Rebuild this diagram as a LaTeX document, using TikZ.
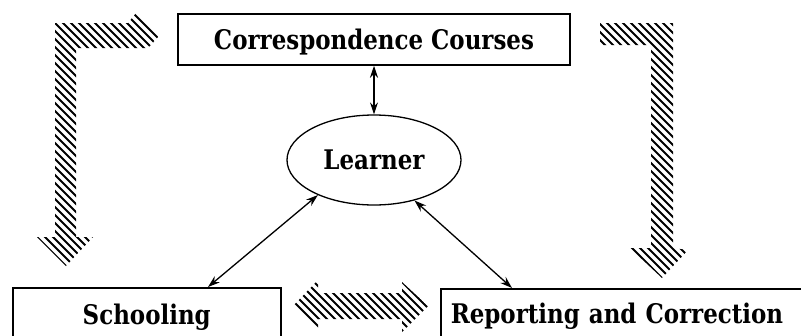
\documentclass[tikz,border=0pt]{standalone}
\usepackage{fontspec}
\setmainfont{DejaVu Serif}[FakeStretch=0.85]
\usetikzlibrary{arrows.meta,shapes.geometric}

\begin{document}
\begin{tikzpicture}[x=1pt,y=-1pt,
  label font/.style={font=\fontsize{27}{30}\selectfont\bfseries},
  box/.style={draw, line width=1.5pt, inner sep=0pt, label font,
    text height=19pt, text depth=0pt},
  learner/.style={draw, ellipse, line width=1.3pt, inner sep=0pt,
    minimum width=174pt, minimum height=90pt, label font},
  link/.style={line width=1.3pt,
    {Stealth[length=12pt,width=8pt]}-{Stealth[length=12pt,width=8pt]}},
  hatch/.style={line width=1.8pt},
]
\useasboundingbox (0,0) rectangle (801,335);
\clip (0,0) rectangle (801,335);

% boxes and the learner
\node[box, minimum width=392pt, minimum height=51pt] (C) at (374,39.5) {Correspondence Courses};
\node[learner] (L) at (374,160) {Learner};
\node[box, anchor=north west, minimum width=268pt, minimum height=54pt] (S) at (12,287) {Schooling};
\node[box, anchor=north west, minimum width=380pt, minimum height=50pt, text width=360pt] (R) at (440,288) {Reporting and Correction};

% two-way links to the learner
\draw[link] (C.south) -- (C.south |- L.north);
\draw[link] (L.212) -- ([xshift=196pt]S.north west);
\draw[link] (L.-45) -- ([xshift=72pt]R.north west);

% hatched flow arrows
\newcommand\hatchfill[1]{%
  \begin{scope}
    \clip #1;
    \foreach \i in {-424,-416,...,820}
      \draw[hatch] (\i,0) -- ++(340,340);
  \end{scope}}

\hatchfill{(55,23) -- (128,23) -- (136,13) -- (159,36) -- (148,48) -- (76,48)
  -- (76,237) -- (93,237) -- (66,266) -- (37,237) -- (55,237) -- cycle}
\hatchfill{(600,23) -- (673,23) -- (673,248) -- (688,250) -- (662,278)
  -- (630,248) -- (651,248) -- (651,45) -- (600,45) -- cycle}
\hatchfill{(293,306) -- (318,280) -- (318,293) -- (402,293) -- (402,282)
  -- (428,306) -- (402,332) -- (402,319) -- (318,319) -- (318,332) -- cycle}
\end{tikzpicture}
\end{document}
